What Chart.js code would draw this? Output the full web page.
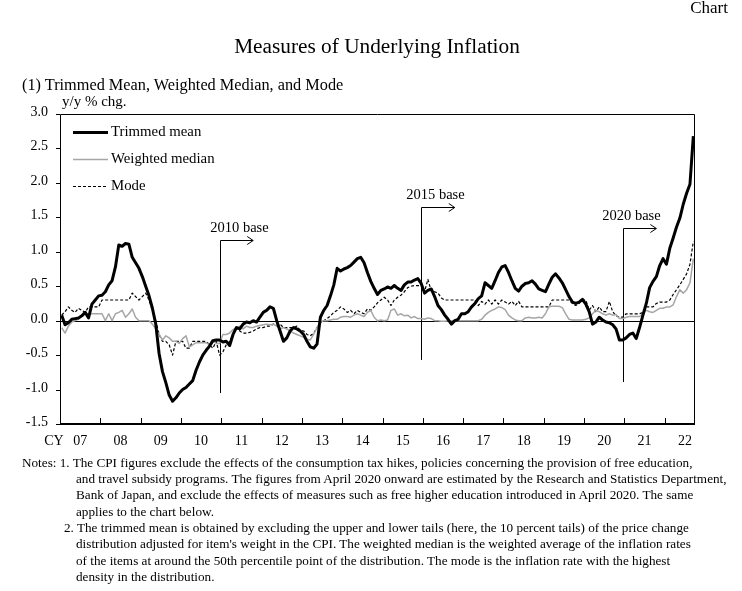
<!DOCTYPE html>
<html>
<head>
<meta charset="utf-8">
<script src="https://cdn.jsdelivr.net/npm/chart.js@4.4.0/dist/chart.umd.min.js"></script>
<style>
  body { margin: 0; background: #fff; }
  #wrap { position: relative; width: 742px; height: 591px; font-family: "Liberation Serif", "Times New Roman", serif; color: #000; }
  #wrap div { position: absolute; white-space: nowrap; }
  canvas { position: absolute; left: 0; top: 0; }
  .note { font-size: 13.2px; line-height: 16.3px; }
</style>
</head>
<body>
<div id="wrap">
  <canvas id="grafico" width="742" height="591"></canvas>
  <div style="right:14px; top:-2px; font-size:17px; line-height:20px;">Chart</div>
  <div style="left:377px; top:34px; font-size:21.3px; line-height:24px; transform:translateX(-50%);">Measures of Underlying Inflation</div>
  <div style="left:22px; top:75px; font-size:16.3px; line-height:19px;">(1) Trimmed Mean, Weighted Median, and Mode</div>
  <div style="left:62px; top:92px; font-size:15px; line-height:18px;">y/y % chg.</div>
  <div class="note" style="left:22px; top:455px;">Notes: 1. The CPI figures exclude the effects of the consumption tax hikes, policies concerning the provision of free education,</div>
  <div class="note" style="left:76px; top:471px;">and travel subsidy programs. The figures from April 2020 onward are estimated by the Research and Statistics Department,</div>
  <div class="note" style="left:76px; top:487px;">Bank of Japan, and exclude the effects of measures such as free higher education introduced in April 2020. The same</div>
  <div class="note" style="left:76px; top:504px;">applies to the chart below.</div>
  <div class="note" style="left:64px; top:520px;">2. The trimmed mean is obtained by excluding the upper and lower tails (here, the 10 percent tails) of the price change</div>
  <div class="note" style="left:76px; top:536px;">distribution adjusted for item's weight in the CPI. The weighted median is the weighted average of the inflation rates</div>
  <div class="note" style="left:76px; top:553px;">of the items at around the 50th percentile point of the distribution. The mode is the inflation rate with the highest</div>
  <div class="note" style="left:76px; top:569px;">density in the distribution.</div>
</div>
<script>
// Year labels on the x axis (CY 2007 - 2022)
const years = ['07', '08', '09', '10', '11', '12', '13', '14', '15', '16', '17', '18', '19', '20', '21', '22'];
const yTickLabels = ['3.0', '2.5', '2.0', '1.5', '1.0', '0.5', '0.0', '-0.5', '-1.0', '-1.5'];

// Monthly y/y % chg., Jan 2007 - Sep 2022
const trimmedMean = [
  0.08, -0.06, -0.03, 0.02, 0.03, 0.04, 0.07, 0.12, 0.04, 0.24, 0.30, 0.36,
  0.37, 0.42, 0.52, 0.58, 0.78, 1.10, 1.08, 1.12, 1.11, 0.92, 0.84, 0.76,
  0.64, 0.50, 0.36, 0.18, -0.05, -0.48, -0.74, -0.90, -1.08, -1.17, -1.12, -1.05,
  -1.00, -0.97, -0.92, -0.87, -0.72, -0.60, -0.50, -0.43, -0.37, -0.29, -0.28, -0.28,
  -0.31, -0.30, -0.36, -0.20, -0.10, -0.12, -0.05, -0.02, -0.03, 0.00, -0.02, 0.05,
  0.12, 0.15, 0.20, 0.18, 0.00, -0.15, -0.30, -0.25, -0.15, -0.10, -0.12, -0.15,
  -0.20, -0.30, -0.38, -0.40, -0.34, 0.05, 0.15, 0.22, 0.36, 0.52, 0.76, 0.72,
  0.75, 0.77, 0.80, 0.85, 0.90, 0.92, 0.84, 0.70, 0.57, 0.47, 0.38, 0.44,
  0.46, 0.49, 0.47, 0.51, 0.47, 0.44, 0.52, 0.56, 0.56, 0.59, 0.61, 0.54,
  0.40, 0.44, 0.46, 0.35, 0.22, 0.16, 0.08, 0.02, -0.05, 0.00, 0.02, 0.10,
  0.10, 0.13, 0.20, 0.25, 0.32, 0.36, 0.55, 0.51, 0.47, 0.58, 0.70, 0.78,
  0.80, 0.70, 0.58, 0.47, 0.43, 0.50, 0.54, 0.55, 0.58, 0.53, 0.46, 0.44,
  0.42, 0.53, 0.63, 0.68, 0.62, 0.55, 0.45, 0.35, 0.27, 0.25, 0.27, 0.31,
  0.24, 0.13, -0.05, -0.02, 0.05, 0.01, -0.02, -0.03, -0.06, -0.12, -0.28, -0.28,
  -0.25, -0.20, -0.18, -0.26, -0.10, 0.08, 0.25, 0.48, 0.57, 0.64, 0.80, 0.90,
  0.82, 1.05, 1.20, 1.36, 1.49, 1.69, 1.85, 1.98, 2.68
];

const weightedMedian = [
  -0.10, -0.18, -0.08, -0.02, 0.00, 0.02, 0.08, 0.10, 0.10, 0.10, 0.10, 0.10,
  0.10, 0.00, 0.10, 0.00, 0.10, 0.12, 0.15, 0.05, 0.10, 0.17, 0.05, 0.00,
  0.00, 0.00, 0.00, -0.05, -0.12, -0.20, -0.28, -0.22, -0.25, -0.30, -0.30, -0.33,
  -0.26, -0.22, -0.38, -0.35, -0.32, -0.32, -0.32, -0.32, -0.35, -0.30, -0.33, -0.33,
  -0.20, -0.20, -0.18, -0.13, -0.10, -0.08, -0.12, -0.08, -0.10, -0.10, -0.08, -0.07,
  -0.06, -0.05, -0.06, -0.05, -0.08, -0.12, -0.10, -0.12, -0.15, -0.18, -0.20, -0.22,
  -0.24, -0.27, -0.28, -0.20, -0.10, -0.02, 0.00, 0.00, 0.01, 0.02, 0.02, 0.05,
  0.06, 0.06, 0.05, 0.08, 0.10, 0.08, 0.06, 0.12, 0.15, 0.05, 0.00, 0.01,
  0.00, 0.01, 0.15, 0.17, 0.08, 0.10, 0.07, 0.08, 0.04, 0.06, 0.03, 0.03,
  0.02, 0.04, 0.03, 0.00, 0.00, -0.01, -0.01, 0.00, 0.00, 0.00, 0.00, 0.00,
  0.00, 0.00, 0.00, 0.00, 0.00, 0.02, 0.08, 0.12, 0.15, 0.17, 0.20, 0.19,
  0.16, 0.08, 0.04, 0.01, 0.00, 0.00, 0.04, 0.05, 0.04, 0.04, 0.05, 0.04,
  0.10, 0.20, 0.21, 0.21, 0.21, 0.19, 0.10, 0.02, 0.01, 0.01, 0.01, 0.01,
  0.02, 0.04, 0.10, 0.15, 0.13, 0.10, 0.08, 0.10, 0.08, 0.09, 0.03, 0.03,
  0.05, 0.06, 0.06, 0.06, 0.06, 0.10, 0.15, 0.13, 0.12, 0.15, 0.18, 0.18,
  0.20, 0.20, 0.23, 0.35, 0.45, 0.40, 0.45, 0.55, 0.90
];

const mode = [
  0.08, 0.13, 0.20, 0.15, 0.12, 0.18, 0.15, 0.12, 0.20, 0.20, 0.20, 0.20,
  0.30, 0.30, 0.30, 0.30, 0.30, 0.30, 0.30, 0.30, 0.30, 0.40, 0.35, 0.30,
  0.35, 0.40, 0.30, 0.15, 0.00, -0.20, -0.30, -0.30, -0.35, -0.50, -0.30, -0.30,
  -0.30, -0.40, -0.40, -0.30, -0.30, -0.30, -0.30, -0.30, -0.35, -0.40, -0.30, -0.50,
  -0.45, -0.35, -0.30, -0.20, -0.12, -0.15, -0.18, -0.18, -0.17, -0.15, -0.12, -0.10,
  -0.10, -0.08, -0.08, -0.05, -0.07, -0.05, -0.10, -0.10, -0.10, -0.10, -0.08, -0.14,
  -0.15, -0.20, -0.22, -0.18, -0.10, -0.03, 0.00, 0.03, 0.07, 0.12, 0.15, 0.20,
  0.17, 0.12, 0.15, 0.10, 0.15, 0.12, 0.10, 0.17, 0.15, 0.20, 0.26, 0.30,
  0.34, 0.30, 0.22, 0.30, 0.34, 0.37, 0.42, 0.48, 0.50, 0.51, 0.51, 0.51,
  0.42, 0.60, 0.43, 0.42, 0.40, 0.33, 0.30, 0.30, 0.30, 0.30, 0.30, 0.30,
  0.30, 0.30, 0.30, 0.30, 0.22, 0.28, 0.24, 0.30, 0.24, 0.30, 0.24, 0.30,
  0.27, 0.24, 0.28, 0.22, 0.28, 0.20, 0.20, 0.20, 0.20, 0.20, 0.20, 0.20,
  0.20, 0.20, 0.30, 0.30, 0.30, 0.30, 0.30, 0.30, 0.25, 0.22, 0.25, 0.30,
  0.30, 0.15, 0.22, 0.13, 0.20, 0.13, 0.13, 0.28, 0.13, 0.07, 0.05, 0.05,
  0.10, 0.10, 0.10, 0.10, 0.10, 0.12, 0.20, 0.20, 0.20, 0.25, 0.27, 0.27,
  0.27, 0.30, 0.38, 0.45, 0.52, 0.60, 0.68, 0.82, 1.15
];

// Base revisions: label and index of the December where the new base starts
const baseLabels = ['2010 base', '2015 base', '2020 base'];
const baseMonths = [47, 107, 167];

// Drawing geometry for the base markers (y range of the line, text offset in px)
const baseMarks = [
  { top: 1.17, bottom: -1.05, textDx: 19 },
  { top: 1.65, bottom: -0.57, textDx: 14 },
  { top: 1.35, bottom: -0.89, textDx: 8 }
];

const FONT = '"Liberation Serif", "Times New Roman", serif';
const toPoints = serie => serie.map((v, i) => ({ x: i + 0.5, y: v }));

// Axes, frame, legend and base markers
const framePlugin = {
  id: 'frame',
  beforeDatasetsDraw(chart) {
    const { ctx, chartArea: a, scales: { x, y } } = chart;
    ctx.save();
    ctx.strokeStyle = '#000';
    ctx.fillStyle = '#000';

    // zero line
    const y0 = Math.round(y.getPixelForValue(0)) + 0.5;
    ctx.lineWidth = 1;
    ctx.beginPath();
    ctx.moveTo(a.left, y0);
    ctx.lineTo(a.right, y0);
    ctx.stroke();

    // base markers
    ctx.font = '14.5px ' + FONT;
    ctx.textAlign = 'center';
    ctx.textBaseline = 'middle';
    baseMonths.forEach((m, i) => {
      const mk = baseMarks[i];
      const px = Math.round(x.getPixelForValue(m + 0.5)) + 0.5;
      const pTop = Math.round(y.getPixelForValue(mk.top)) + 0.5;
      const pBot = y.getPixelForValue(mk.bottom);
      const pEnd = x.getPixelForValue(m + 10.5);
      ctx.beginPath();
      ctx.moveTo(px, pBot);
      ctx.lineTo(px, pTop);
      ctx.lineTo(pEnd, pTop);
      ctx.moveTo(pEnd - 6, pTop - 4);
      ctx.lineTo(pEnd, pTop);
      ctx.lineTo(pEnd - 6, pTop + 4);
      ctx.stroke();
      ctx.fillText(baseLabels[i], px + mk.textDx, pTop - 12);
    });
    ctx.restore();
  },
  afterDraw(chart) {
    const { ctx, chartArea: a, scales: { x, y } } = chart;
    ctx.save();
    ctx.strokeStyle = '#000';
    ctx.fillStyle = '#000';

    // frame
    ctx.lineWidth = 1;
    ctx.beginPath();
    ctx.moveTo(a.left + 0.5, a.bottom);
    ctx.lineTo(a.left + 0.5, a.top + 0.5);
    ctx.lineTo(a.right - 0.5, a.top + 0.5);
    ctx.lineTo(a.right - 0.5, a.bottom);
    ctx.stroke();
    ctx.lineWidth = 2;
    ctx.beginPath();
    ctx.moveTo(a.left, a.bottom);
    ctx.lineTo(a.right, a.bottom);
    ctx.stroke();

    // y ticks and labels
    ctx.lineWidth = 1;
    ctx.font = '14px ' + FONT;
    ctx.textAlign = 'right';
    ctx.textBaseline = 'middle';
    yTickLabels.forEach(lbl => {
      const py = Math.round(y.getPixelForValue(parseFloat(lbl))) + 0.5;
      ctx.beginPath();
      ctx.moveTo(a.left - 4, py);
      ctx.lineTo(a.left, py);
      ctx.stroke();
      ctx.fillText(lbl, a.left - 12, py - 2);
    });

    // x ticks (year boundaries) and year labels
    ctx.textAlign = 'center';
    years.forEach((yr, i) => {
      if (i > 0) {
        const px = Math.round(x.getPixelForValue(i * 12)) + 0.5;
        ctx.beginPath();
        ctx.moveTo(px, a.bottom);
        ctx.lineTo(px, a.bottom - 6);
        ctx.stroke();
      }
      ctx.fillText(yr, x.getPixelForValue(i * 12 + 6), a.bottom + 17);
    });
    ctx.fillText('CY', a.left - 6, a.bottom + 17);

    // legend
    ctx.font = '14.8px ' + FONT;
    ctx.textAlign = 'left';
    chart.data.datasets.forEach((ds, i) => {
      const ly = a.top + 18.5 + i * 27;
      ctx.save();
      ctx.strokeStyle = ds.borderColor;
      ctx.lineWidth = ds.borderWidth;
      ctx.setLineDash(ds.borderDash || []);
      ctx.beginPath();
      ctx.moveTo(a.left + 13, ly);
      ctx.lineTo(a.left + 48, ly);
      ctx.stroke();
      ctx.restore();
      ctx.fillText(ds.label, a.left + 51, ly);
    });
    ctx.restore();
  }
};

new Chart(document.getElementById('grafico'), {
  type: 'line',
  data: {
    datasets: [
      { label: 'Trimmed mean', data: toPoints(trimmedMean), borderColor: '#000', borderWidth: 3 },
      { label: 'Weighted median', data: toPoints(weightedMedian), borderColor: '#a6a6a6', borderWidth: 1.5 },
      { label: 'Mode', data: toPoints(mode), borderColor: '#000', borderWidth: 1.2, borderDash: [3, 2] }
    ]
  },
  options: {
    responsive: false,
    animation: false,
    devicePixelRatio: 1,
    layout: { padding: { left: 60, top: 114, right: 47, bottom: 167 } },
    elements: {
      point: { radius: 0 },
      line: { tension: 0, borderJoinStyle: 'round', fill: false }
    },
    scales: {
      x: { type: 'linear', min: 0, max: 189, display: false },
      y: { min: -1.5, max: 3.0, display: false }
    },
    plugins: {
      legend: { display: false },
      tooltip: { enabled: false }
    }
  },
  plugins: [framePlugin]
});
</script>
</body>
</html>
